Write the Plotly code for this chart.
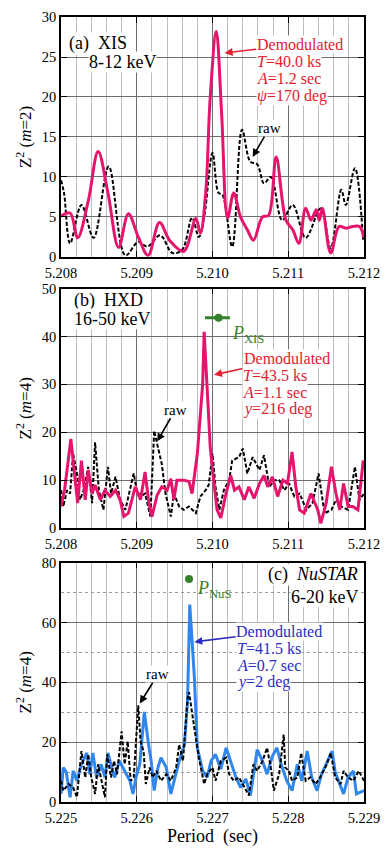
import plotly.graph_objects as go

# ---- panel (a) XIS 8-12 keV, Z^2 (m=2)
a_raw_p = [5.20800, 5.20804, 5.20812, 5.20827, 5.20843, 5.20863, 5.20885, 5.20902, 5.20914,
           5.20931, 5.20947, 5.20960, 5.20973, 5.20982, 5.20989, 5.21000, 5.21008, 5.21013,
           5.21026, 5.21039, 5.21050, 5.21059, 5.21068, 5.21077, 5.21092, 5.21106, 5.21123,
           5.21143, 5.21156, 5.21170, 5.21176, 5.21188, 5.21199]
a_raw_z = [9.6, 8.0, 1.7, 6.5, 2.4, 11.3, 0.2, 1.9, 1.3,
           2.7, 0.5, 0.9, 4.9, 2.5, 5.0, 13.0, 8.0, 7.8,
           1.3, 15.9, 11.9, 11.6, 9.2, 10.0, 4.6, 6.5, 2.4,
           6.1, 1.1, 8.4, 6.5, 11.1, 1.9]

a_dem_p = [5.20800, 5.20812, 5.20822, 5.20836, 5.20849, 5.20862, 5.20876, 5.20889, 5.20902,
           5.20915, 5.20930, 5.20944, 5.20962, 5.20978, 5.20984, 5.20991, 5.20997, 5.21005,
           5.21012, 5.21020, 5.21028, 5.21037, 5.21046, 5.21054, 5.21066, 5.21074, 5.21084,
           5.21097, 5.21106, 5.21114, 5.21123, 5.21130, 5.21137, 5.21141, 5.21145, 5.21156,
           5.21167, 5.21176, 5.21185, 5.21194, 5.21200]
a_dem_z = [5.1, 5.5, 2.4, 7.0, 13.2, 8.0, 1.2, 5.4, 2.5,
           0.2, 4.3, 2.0, 0.7, 4.8, 3.0, 8.0, 20.0, 28.2,
           18.0, 4.9, 8.0, 5.0, 3.4, 2.1, 5.0, 5.2, 12.5,
           4.6, 3.4, 1.7, 6.1, 4.6, 5.9, 4.6, 6.1, 0.5,
           3.8, 3.6, 3.8, 3.8, 2.4]

# ---- panel (b) HXD 16-50 keV, Z^2 (m=4)
b_raw_p = [5.20800, 5.20803, 5.20808, 5.20812, 5.20816, 5.20821, 5.20825, 5.20830, 5.20836,
           5.20841, 5.20845, 5.20850, 5.20856, 5.20862, 5.20866, 5.20872, 5.20878, 5.20885,
           5.20889, 5.20896, 5.20900, 5.20905, 5.20911, 5.20918, 5.20923, 5.20929, 5.20933,
           5.20938, 5.20945, 5.20949, 5.20956, 5.20962, 5.20969, 5.20978, 5.20984, 5.20991,
           5.20995, 5.21000, 5.21004, 5.21009, 5.21015, 5.21022, 5.21026, 5.21035, 5.21040,
           5.21046, 5.21053, 5.21062, 5.21068, 5.21075, 5.21082, 5.21088, 5.21095, 5.21101,
           5.21108, 5.21115, 5.21124, 5.21132, 5.21140, 5.21148, 5.21157, 5.21163, 5.21170,
           5.21179, 5.21188, 5.21194, 5.21200]
b_raw_z = [7.9, 4.5, 7.9, 7.2, 15.5, 11.4, 5.9, 7.9, 12.8,
           5.2, 17.9, 7.9, 3.8, 12.8, 7.2, 10.7, 5.9, 3.8,
           6.6, 11.4, 7.9, 6.6, 7.2, 2.4, 20.3, 16.2, 13.4,
           7.2, 2.4, 7.2, 4.5, 3.8, 4.5, 3.1, 6.6, 7.9,
           9.0, 15.5, 8.6, 3.8, 7.9, 10.0, 14.1, 14.8, 16.6,
           11.4, 14.8, 12.1, 15.2, 8.6, 10.0, 10.0, 7.9, 9.3,
           6.6, 7.2, 3.8, 5.2, 11.4, 3.1, 3.8, 5.9, 4.5,
           3.8, 12.8, 5.9, 7.2]

b_dem_p = [5.20800, 5.20805, 5.20813, 5.20818, 5.20822, 5.20827, 5.20832, 5.20836, 5.20841,
           5.20845, 5.20852, 5.20858, 5.20865, 5.20872, 5.20878, 5.20883, 5.20889, 5.20898,
           5.20905, 5.20911, 5.20916, 5.20920, 5.20927, 5.20933, 5.20940, 5.20945, 5.20949,
           5.20953, 5.20962, 5.20969, 5.20973, 5.20980, 5.20987, 5.20989, 5.20993, 5.20997,
           5.21000, 5.21006, 5.21011, 5.21017, 5.21024, 5.21029, 5.21035, 5.21042, 5.21048,
           5.21055, 5.21062, 5.21068, 5.21073, 5.21079, 5.21086, 5.21093, 5.21099, 5.21105,
           5.21110, 5.21115, 5.21121, 5.21130, 5.21139, 5.21143, 5.21150, 5.21157, 5.21163,
           5.21168, 5.21173, 5.21179, 5.21185, 5.21192, 5.21199]
b_dem_z = [4.5, 8.3, 18.6, 10.7, 5.2, 14.1, 5.9, 12.1, 7.2,
           9.0, 5.9, 7.9, 6.6, 7.9, 5.9, 2.4, 3.1, 8.6,
           5.9, 11.7, 5.2, 2.4, 6.9, 8.6, 7.9, 10.3, 5.9,
           10.0, 10.0, 9.7, 7.2, 15.5, 30.0, 41.0, 28.6, 17.0,
           12.1, 3.8, 2.1, 6.6, 11.0, 7.9, 8.6, 5.9, 8.6,
           6.2, 9.3, 11.0, 8.6, 10.7, 6.6, 10.0, 9.3, 15.9,
           8.6, 3.8, 3.1, 7.2, 3.8, 1.0, 5.2, 12.8, 7.2,
           3.8, 9.3, 4.5, 4.5, 3.8, 14.1]

# ---- panel (c) NuSTAR 6-20 keV, Z^2 (m=4)
c_raw_p = [5.22500, 5.22503, 5.22510, 5.22516, 5.22521, 5.22527, 5.22532, 5.22536, 5.22540,
           5.22545, 5.22549, 5.22553, 5.22558, 5.22561, 5.22566, 5.22570, 5.22574, 5.22580,
           5.22584, 5.22588, 5.22592, 5.22596, 5.22602, 5.22605, 5.22609, 5.22612, 5.22617,
           5.22621, 5.22626, 5.22632, 5.22639, 5.22645, 5.22652, 5.22656, 5.22661, 5.22667,
           5.22669, 5.22676, 5.22682, 5.22689, 5.22693, 5.22700, 5.22704, 5.22711, 5.22718,
           5.22722, 5.22728, 5.22735, 5.22742, 5.22748, 5.22754, 5.22759, 5.22766, 5.22772,
           5.22777, 5.22781, 5.22788, 5.22794, 5.22796, 5.22801, 5.22805, 5.22812, 5.22817,
           5.22823, 5.22829, 5.22836, 5.22842, 5.22850, 5.22856, 5.22862, 5.22869, 5.22873,
           5.22879, 5.22886, 5.22893, 5.22900]
c_raw_z = [7.1, 3.8, 6.0, 4.9, 1.6, 17.0, 8.2, 15.9, 8.2,
           2.7, 12.6, 8.2, 1.6, 15.9, 8.2, 13.7, 9.3, 23.6,
           12.6, 20.3, 7.1, 8.2, 32.3, 20.3, 17.0, 6.0, 11.5,
           8.2, 10.4, 7.1, 9.3, 7.1, 11.5, 19.2, 13.7, 34.5,
           36.7, 24.7, 14.8, 6.0, 9.3, 11.5, 7.1, 13.7, 14.8,
           9.3, 7.1, 8.2, 4.9, 2.2, 12.6, 10.4, 13.7, 18.1,
           11.5, 3.8, 9.3, 22.5, 11.5, 10.4, 7.1, 8.2, 16.4,
           7.1, 8.2, 6.0, 8.2, 12.1, 16.4, 8.2, 6.0, 10.4,
           8.2, 7.1, 10.4, 7.1]

c_dem_p = [5.22500, 5.22503, 5.22507, 5.22512, 5.22516, 5.22521, 5.22527, 5.22534, 5.22538,
           5.22542, 5.22547, 5.22553, 5.22558, 5.22562, 5.22567, 5.22571, 5.22577, 5.22584,
           5.22591, 5.22595, 5.22599, 5.22604, 5.22610, 5.22615, 5.22619, 5.22623, 5.22628,
           5.22632, 5.22639, 5.22645, 5.22650, 5.22656, 5.22663, 5.22667, 5.22670, 5.22676,
           5.22680, 5.22687, 5.22693, 5.22698, 5.22704, 5.22711, 5.22718, 5.22724, 5.22731,
           5.22737, 5.22744, 5.22750, 5.22755, 5.22759, 5.22766, 5.22772, 5.22779, 5.22785,
           5.22792, 5.22798, 5.22805, 5.22812, 5.22818, 5.22825, 5.22831, 5.22838, 5.22844,
           5.22851, 5.22858, 5.22862, 5.22866, 5.22873, 5.22879, 5.22886, 5.22890, 5.22900]
c_dem_z = [2.7, 11.5, 9.9, 1.6, 10.4, 7.1, 12.6, 16.4, 9.3,
           16.4, 8.2, 12.6, 8.2, 16.4, 11.5, 8.2, 13.7, 10.4,
           7.1, 2.7, 8.2, 12.6, 30.1, 20.3, 13.7, 3.8, 11.5,
           14.8, 11.5, 2.7, 8.2, 13.7, 19.2, 33.4, 66.0, 42.0,
           18.1, 10.4, 8.2, 13.7, 15.9, 11.0, 18.1, 13.2, 8.2,
           4.9, 7.7, 2.2, 10.4, 17.5, 13.7, 9.3, 15.3, 18.1,
           11.5, 7.1, 3.8, 12.6, 7.1, 17.0, 8.2, 3.8, 9.3,
           13.2, 17.0, 9.9, 7.1, 2.7, 8.2, 10.4, 2.7, 3.8]

# best periods (green markers)
p_xis, p_xis_lo, p_xis_hi, p_xis_z = 5.21008, 5.20990, 5.21023, 43.9
p_nus, p_nus_z = 5.22669, 74.5

PINK = "#E5156E"
RED = "#E3202F"
BLUE = "#2F86EC"
DBLUE = "#2A2DC2"
GREEN = "#35802A"
FONT = "Liberation Serif"
TICK = 14.5

fig = go.Figure()

fig.add_trace(go.Scatter(x=a_raw_p, y=a_raw_z, mode="lines", line_shape="spline",
                         line=dict(color="black", width=2, dash="4px,2px"), xaxis="x", yaxis="y"))
fig.add_trace(go.Scatter(x=a_dem_p, y=a_dem_z, mode="lines", line_shape="spline",
                         line=dict(color=PINK, width=3), xaxis="x", yaxis="y"))

fig.add_trace(go.Scatter(x=b_raw_p, y=b_raw_z, mode="lines",
                         line=dict(color="black", width=2, dash="4px,2px"), xaxis="x2", yaxis="y2"))
fig.add_trace(go.Scatter(x=b_dem_p, y=b_dem_z, mode="lines",
                         line=dict(color=PINK, width=3), xaxis="x2", yaxis="y2"))
fig.add_trace(go.Scatter(x=[p_xis], y=[p_xis_z], mode="markers",
                         marker=dict(color=GREEN, size=8),
                         error_x=dict(type="data", symmetric=False, array=[p_xis_hi - p_xis],
                                      arrayminus=[p_xis - p_xis_lo], color=GREEN,
                                      thickness=3, width=0),
                         xaxis="x2", yaxis="y2"))

fig.add_trace(go.Scatter(x=c_dem_p, y=c_dem_z, mode="lines",
                         line=dict(color=BLUE, width=3), xaxis="x3", yaxis="y3"))
fig.add_trace(go.Scatter(x=c_raw_p, y=c_raw_z, mode="lines",
                         line=dict(color="black", width=2, dash="4px,2px"), xaxis="x3", yaxis="y3"))
fig.add_trace(go.Scatter(x=[p_nus], y=[p_nus_z], mode="markers",
                         marker=dict(color=GREEN, size=8), xaxis="x3", yaxis="y3"))


def xax(rng, anchor, title=None):
    d = dict(range=rng, domain=[0, 1], anchor=anchor, dtick=0.001, tick0=rng[0],
             tickformat=".3f", ticks="inside", ticklen=6, tickcolor="black",
             showline=True, linecolor="black", linewidth=1.5, mirror="allticks",
             showgrid=True, gridcolor="#6e6e6e", gridwidth=1, zeroline=False,
             ticklabelstandoff=2,
             tickfont=dict(family=FONT, size=TICK, color="black"), automargin=False,
             minor=dict(dtick=0.0002, tick0=rng[0], showgrid=True, gridcolor="#bdbdbd",
                        gridwidth=1, ticks=""))
    if title:
        d["title"] = dict(text=title, font=dict(family=FONT, size=18, color="black"), standoff=2)
    return d


def yax(rng, dtick, dom, anchor, title, minor=None):
    d = dict(range=rng, domain=dom, anchor=anchor, dtick=dtick, ticks="inside", ticklen=6,
             tickcolor="black", showline=True, linecolor="black", linewidth=1.5,
             mirror="allticks", showgrid=True, gridcolor="#6e6e6e", gridwidth=1,
             zeroline=False, automargin=False,
             tickfont=dict(family=FONT, size=TICK, color="black"),
             title=dict(text=title, font=dict(family=FONT, size=17, color="black"), standoff=6))
    if minor:
        d["minor"] = dict(dtick=minor, showgrid=True, gridcolor="#9a9a9a", griddash="dot",
                          gridwidth=1, ticks="")
    return d


fig.update_layout(
    width=392, height=857,
    margin=dict(l=61, r=28, t=17, b=55),
    paper_bgcolor="white", plot_bgcolor="white",
    showlegend=False,
    font=dict(family=FONT, color="black"),
    xaxis=xax([5.208, 5.212], "y"),
    yaxis=yax([0, 30], 5, [0.6943, 1.0], "x", "Z<sup>2</sup> (<i>m</i>=2)"),
    xaxis2=xax([5.208, 5.212], "y2"),
    yaxis2=yax([0, 50], 10, [0.349, 0.654], "x2", "Z<sup>2</sup> (<i>m</i>=4)"),
    xaxis3=xax([5.225, 5.229], "y3", "Period  (sec)"),
    yaxis3=yax([0, 80], 20, [0.0, 0.305], "x3", "Z<sup>2</sup> (<i>m</i>=4)", minor=10),
)

ann = []


def txt(x, y, text, xr, yr, color="black", size=16, anchor="left", bg="white"):
    ann.append(dict(x=x, y=y, xref=xr, yref=yr, text=text, showarrow=False,
                    xanchor=anchor, yanchor="middle", bgcolor=bg, borderpad=0,
                    font=dict(family=FONT, size=size, color=color)))


def arrow_txt(hx, hy, tx, ty, text, xr, yr, color, size):
    ann.append(dict(x=hx, y=hy, ax=tx, ay=ty, xref=xr, yref=yr, axref=xr, ayref=yr,
                    text=text, showarrow=True, arrowhead=2, arrowsize=1, arrowwidth=1.6,
                    arrowcolor=color, bgcolor="white", borderpad=0,
                    font=dict(family=FONT, size=size, color=color)))


# panel (a)
txt(5.20809, 26.75, "(a)  XIS", "x", "y", size=18)
txt(5.20836, 24.4, "8-12 keV", "x", "y", size=18)
arrow_txt(5.21016, 25.5, 5.21115, 26.6, "Demodulated", "x", "y", RED, 16)
txt(5.21057, 24.4, "<i>T</i>=40.0 ks", "x", "y", RED)
txt(5.21057, 22.25, "<i>A</i>=1.2 sec", "x", "y", RED)
txt(5.21057, 20.1, "<i>ψ</i>=170 deg", "x", "y", RED)
arrow_txt(5.21053, 12.5, 5.21075, 16.1, "raw", "x", "y", "black", 15)

# panel (b)
txt(5.20816, 47.6, "(b)  HXD", "x2", "y2", size=18)
txt(5.20816, 43.6, "16-50 keV", "x2", "y2", size=18)
txt(5.21024, 40.4, "<i>P</i><sub>XIS</sub>", "x2", "y2", color=GREEN, size=18, bg=None)
arrow_txt(5.21002, 32.0, 5.21098, 35.3, "Demodulated", "x2", "y2", RED, 16)
txt(5.21039, 31.9, "<i>T</i>=43.5 ks", "x2", "y2", RED)
txt(5.21039, 28.3, "<i>A</i>=1.1 sec", "x2", "y2", RED)
txt(5.21039, 24.9, "<i>y</i>=216 deg", "x2", "y2", RED)
arrow_txt(5.20927, 18.1, 5.20951, 24.7, "raw", "x2", "y2", "black", 15)

# panel (c)
txt(5.22893, 76.0, "(c)  <i>NuSTAR</i>", "x3", "y3", size=18, anchor="right")
txt(5.22893, 68.4, "6-20 keV", "x3", "y3", size=18, anchor="right")
txt(5.22678, 71.0, "<i>P</i><sub>NuS</sub>", "x3", "y3", color=GREEN, size=18, bg=None)
arrow_txt(5.22676, 53.5, 5.22788, 57.0, "Demodulated", "x3", "y3", DBLUE, 16)
txt(5.22731, 51.2, "<i>T</i>=41.5 ks", "x3", "y3", DBLUE)
txt(5.22731, 45.5, "<i>A</i>=0.7 sec", "x3", "y3", DBLUE)
txt(5.22731, 40.0, "<i>y</i>=2 deg", "x3", "y3", DBLUE)
arrow_txt(5.22604, 32.9, 5.22628, 42.7, "raw", "x3", "y3", "black", 15)

fig.update_layout(annotations=ann)

fig.write_html("out.html", config={"displayModeBar": False},
               post_script="document.body.style.margin='0';")
